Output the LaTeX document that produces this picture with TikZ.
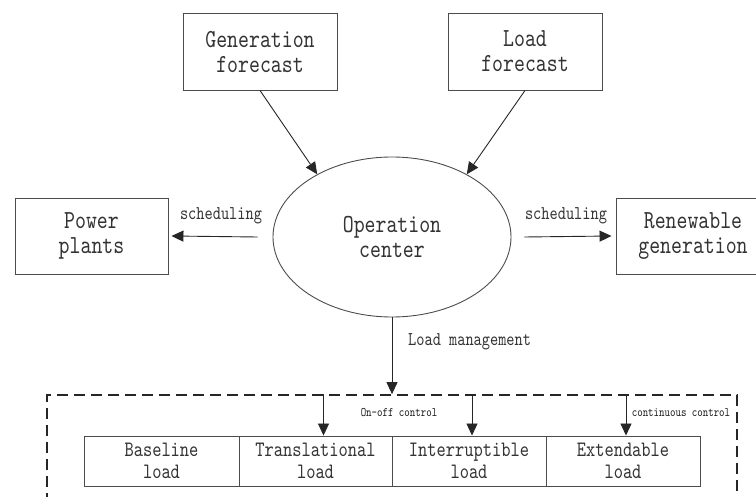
\documentclass[tikz,border=0pt]{standalone}
\usepackage{fontspec}
\newfontfamily\dgfont{lmmono10-regular}[Extension=.otf, FakeStretch=0.8]
\usetikzlibrary{shapes.geometric,arrows.meta}
\begin{document}
\begin{tikzpicture}[x=1pt,y=-1pt,
  txt/.style={font=\dgfont\fontsize{26}{25}\selectfont, text=black!80, align=center},
  celltxt/.style={font=\dgfont\fontsize{22}{21.5}\selectfont, text=black!80, align=center},
  small/.style={font=\dgfont\fontsize{19.5}{20}\selectfont, text=black!80, inner sep=0},
  tiny/.style={font=\dgfont\fontsize{13}{14}\selectfont, text=black!90, inner sep=0},
  box/.style={txt, draw=black!70, line width=0.9pt, minimum width=154, minimum height=77, inner sep=0},
  cell/.style={celltxt, draw=black!70, line width=0.9pt, minimum height=50, inner sep=0},
  arr/.style={draw=black!85, line width=0.9pt, -{Triangle[length=12pt,width=11pt]}},
  grpbox/.style={draw=black!85, line width=1.7pt, dash pattern=on 11pt off 6pt, minimum width=690, minimum height=103, inner sep=0}
]
\useasboundingbox (0,0) rectangle (756,497);
\node[box] (gen) at (260,51.5) {Generation\\forecast};
\node[box] (lf) at (525,51.5) {Load\\forecast};
\node[txt, ellipse, draw=black!70, line width=0.9pt, minimum width=238, minimum height=160, inner sep=0] (op) at (392,237) {Operation\\center};
\node[box, minimum width=153, minimum height=76] (pp) at (91.5,236) {Power\\plants};
\node[box, minimum width=154, minimum height=76] (rg) at (693,236) {Renewable\\generation};
\node[grpbox] (grp) at (392,446.5) {};
\node[cell, minimum width=155] (bl) at (161.5,461) {Baseline\\load};
\node[cell, minimum width=153] (tl) at (315.5,461) {Translational\\load};
\node[cell, minimum width=154] (il) at (469,461) {Interruptible\\load};
\node[cell, minimum width=154] (el) at (623,461) {Extendable\\load};
\node[small] (s1) at (221,216) {scheduling};
\node[small] (s2) at (566,216) {scheduling};
\node[small, anchor=west] (lm) at (408,342) {Load management};
\node[tiny] (oo) at (399,413) {On-off control};
\node[tiny] (cc) at (681,413) {continuous control};
\draw[arr] (gen.south) -- (op.140);
\draw[arr] (lf.south) -- (op.40);
\draw[arr] ([xshift=-15pt]op.west) -- ([xshift=3pt]pp.east);
\draw[arr] ([xshift=13pt]op.east) -- ([xshift=-4pt]rg.west);
\draw[arr] (op.south) -- (grp.north);
\draw[arr] ([xshift=8pt]tl.north |- grp.north) -- ([xshift=8pt]tl.north);
\draw[arr] ([xshift=3pt]il.north |- grp.north) -- ([xshift=3pt]il.north);
\draw[arr] ([xshift=3pt]el.north |- grp.north) -- ([xshift=3pt]el.north);
\end{tikzpicture}
\end{document}
